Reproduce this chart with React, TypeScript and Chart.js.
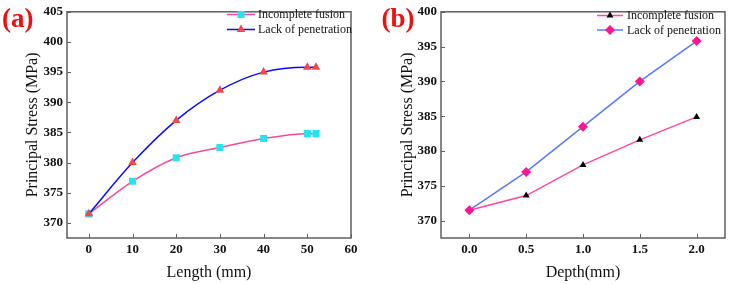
import React, { useEffect, useRef } from 'react';
import { Chart, registerables } from 'chart.js';
import { drawPoint } from 'chart.js/helpers';

Chart.register(...registerables);

const SERIES_NAMES = ['Incomplete fusion', 'Lack of penetration'];

const LENGTH_MM = [0, 10, 20, 30, 40, 50, 52];
const LENGTH_INCOMPLETE = [371.5, 376.9, 380.8, 382.5, 384.0, 384.8, 384.8];
const LENGTH_LACK = [371.5, 380.0, 387.0, 392.0, 395.0, 395.8, 395.8];

const DEPTH_MM = [0, 0.5, 1.0, 1.5, 2.0];
const DEPTH_INCOMPLETE = [371.5, 373.6, 378.0, 381.6, 384.9];
const DEPTH_LACK = [371.5, 377.0, 383.5, 390.0, 395.8];

const LENGTH_X_TICKS = [0, 10, 20, 30, 40, 50, 60];
const LENGTH_Y_TICKS = [370, 375, 380, 385, 390, 395, 400, 405];
const DEPTH_X_TICKS = [0, 0.5, 1.0, 1.5, 2.0];
const DEPTH_Y_TICKS = [370, 375, 380, 385, 390, 395, 400];

const SERIF = '"Liberation Serif", "Times New Roman", serif';
const AXIS_COLOR = '#5f5f5f';

const decorPlugin = {
  id: 'decor',
  afterDraw(chart: any, _args: any, opts: any) {
    const ctx = chart.ctx;
    const a = chart.chartArea;
    ctx.save();
    // frame
    ctx.strokeStyle = AXIS_COLOR;
    ctx.lineWidth = 1.5;
    ctx.strokeRect(a.left, a.top, a.right - a.left, a.bottom - a.top);
    // inward ticks
    ctx.lineWidth = 1;
    const xs = chart.scales.x;
    const ys = chart.scales.y;
    ctx.beginPath();
    xs.ticks.forEach((t: any) => {
      const px = Math.round(xs.getPixelForValue(t.value)) + 0.5;
      ctx.moveTo(px, a.bottom);
      ctx.lineTo(px, a.bottom - 4);
    });
    ys.ticks.forEach((t: any) => {
      const py = Math.round(ys.getPixelForValue(t.value)) + 0.5;
      ctx.moveTo(a.left, py);
      ctx.lineTo(a.left + 4, py);
    });
    ctx.stroke();
    // panel label
    ctx.fillStyle = '#ee1111';
    ctx.font = 'bold 27px ' + SERIF;
    ctx.textAlign = 'left';
    ctx.textBaseline = 'alphabetic';
    ctx.fillText(opts.label, opts.labelX, opts.labelY);
    // legend
    ctx.font = '12px ' + SERIF;
    ctx.textBaseline = 'middle';
    chart.data.datasets.forEach((ds: any, i: number) => {
      const y = opts.legendY[i];
      ctx.strokeStyle = ds.borderColor;
      ctx.lineWidth = ds.borderWidth;
      ctx.beginPath();
      ctx.moveTo(opts.legendX0, y);
      ctx.lineTo(opts.legendX1, y);
      ctx.stroke();
      ctx.fillStyle = ds.pointBackgroundColor;
      ctx.strokeStyle = ds.pointBackgroundColor;
      drawPoint(ctx, { pointStyle: ds.pointStyle, radius: ds.pointRadius, rotation: 0, borderWidth: 0 }, (opts.legendX0 + opts.legendX1) / 2, y);
      ctx.fillStyle = '#111';
      ctx.fillText(ds.label, opts.legendTextX, y + 0.5);
    });
    ctx.restore();
  },
};

function makeConfig(p: any) {
  return {
    type: 'line',
    data: {
      datasets: [
        {
          label: SERIES_NAMES[0],
          data: p.xs.map((x: number, i: number) => ({ x, y: p.s1[i] })),
          borderColor: p.c1,
          borderWidth: 1.5,
          pointStyle: p.m1,
          pointRadius: p.r1,
          pointBackgroundColor: p.mc1,
          pointBorderWidth: 0,
          cubicInterpolationMode: p.smooth ? 'monotone' : 'default',
          tension: 0,
          order: 2,
        },
        {
          label: SERIES_NAMES[1],
          data: p.xs.map((x: number, i: number) => ({ x, y: p.s2[i] })),
          borderColor: p.c2,
          borderWidth: 1.5,
          pointStyle: p.m2,
          pointRadius: p.r2,
          pointBackgroundColor: p.mc2,
          pointBorderWidth: 0,
          cubicInterpolationMode: p.smooth ? 'monotone' : 'default',
          tension: 0,
          order: 1,
        },
      ],
    },
    options: {
      responsive: false,
      animation: false,
      devicePixelRatio: 1,
      layout: { padding: { left: 0, right: p.padRight, top: 8, bottom: 0 } },
      plugins: {
        legend: { display: false },
        tooltip: { enabled: false },
        decor: p.decor,
      },
      scales: {
        x: {
          type: 'linear',
          position: 'bottom',
          min: p.xMin,
          max: p.xMax,
          grid: { display: false, drawTicks: false },
          border: { display: false },
          afterBuildTicks: (s: any) => { s.ticks = p.xTicks.map((v: number) => ({ value: v })); },
          afterFit: (s: any) => { s.height = 46; },
          ticks: {
            padding: 4,
            color: '#111',
            font: { family: SERIF, size: 13, weight: 'bold' },
            callback: p.xFmt,
            maxRotation: 0,
            autoSkip: false,
          },
          title: {
            display: true,
            text: p.xTitle,
            color: '#111',
            font: { family: SERIF, size: 16 },
            padding: { top: 0, bottom: 2 },
          },
        },
        y: {
          type: 'linear',
          position: 'left',
          min: p.yMin,
          max: p.yMax,
          grid: { display: false, drawTicks: false },
          border: { display: false },
          afterBuildTicks: (s: any) => { s.ticks = p.yTicks.map((v: number) => ({ value: v })); },
          afterFit: (s: any) => { s.width = p.yWidth; },
          ticks: {
            padding: 4,
            color: '#111',
            font: { family: SERIF, size: 13, weight: 'bold' },
            autoSkip: false,
          },
          title: {
            display: true,
            text: 'Principal Stress (MPa)',
            color: '#111',
            font: { family: SERIF, size: 16 },
            padding: { top: p.yTitlePad, bottom: 0 },
          },
        },
      },
    },
    plugins: [decorPlugin],
  } as any;
}

export default function App() {
  const refA = useRef<HTMLCanvasElement>(null);
  const refB = useRef<HTMLCanvasElement>(null);

  useEffect(() => {
    const chartA = new Chart(refA.current as HTMLCanvasElement, makeConfig({
      xs: LENGTH_MM, s1: LENGTH_INCOMPLETE, s2: LENGTH_LACK,
      c1: '#f7489e', mc1: '#26e4ef', m1: 'rect', r1: 5,
      c2: '#0a0aff', mc2: '#f04848', m2: 'triangle', r2: 5,
      smooth: true,
      padRight: 14, yWidth: 67, yTitlePad: 23.4,
      xMin: -5, xMax: 60, yMin: 367.5, yMax: 405,
      xTicks: LENGTH_X_TICKS, yTicks: LENGTH_Y_TICKS,
      xFmt: (v: number) => String(v),
      xTitle: 'Length (mm)',
      decor: { label: '(a)', labelX: 2, labelY: 27, legendX0: 227, legendX1: 255, legendTextX: 258, legendY: [14.5, 29.5] },
    }));
    const chartB = new Chart(refB.current as HTMLCanvasElement, makeConfig({
      xs: DEPTH_MM, s1: DEPTH_INCOMPLETE, s2: DEPTH_LACK,
      c1: '#ff47a3', mc1: '#000000', m1: 'triangle', r1: 4,
      c2: '#5a78ff', mc2: '#ff1490', m2: 'rectRot', r2: 5,
      smooth: false,
      padRight: 6, yWidth: 76, yTitlePad: 33,
      xMin: -0.25, xMax: 2.25, yMin: 367.5, yMax: 400,
      xTicks: DEPTH_X_TICKS, yTicks: DEPTH_Y_TICKS,
      xFmt: (v: number) => v.toFixed(1),
      xTitle: 'Depth(mm)',
      decor: { label: '(b)', labelX: 16.5, labelY: 27, legendX0: 232, legendX1: 258, legendTextX: 262, legendY: [15.5, 30] },
    }));
    return () => { chartA.destroy(); chartB.destroy(); };
  }, []);

  return (
    <div style={{ position: 'fixed', left: 0, top: 0, width: 731, height: 284, background: '#fff' }}>
      <canvas ref={refA} width={365} height={284} style={{ position: 'absolute', left: 0, top: 0 }} />
      <canvas ref={refB} width={366} height={284} style={{ position: 'absolute', left: 365, top: 0 }} />
    </div>
  );
}
